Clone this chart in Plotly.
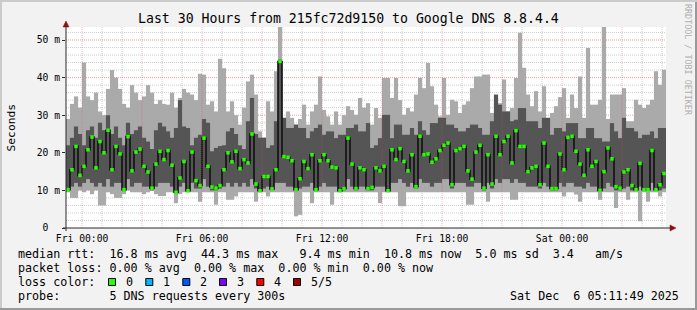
import numpy as np
import pandas as pd
import plotly.graph_objects as go

# ---------------- data ----------------
title_text = "Last 30 Hours from 215fc72d9150 to Google DNS 8.8.4.4"
start_time = "2025-12-04 23:11:49"
end_time = "2025-12-06 05:11:49"
step_minutes = 12

median_ms = [10.2, 15.5, 21.7, 14.0, 16.4, 20.8, 24.2, 16.0, 23.0, 20.0, 26.0, 15.5, 21.7, 19.7, 10.2, 24.3, 15.2, 20.2, 21.0, 16.4, 14.9, 10.6, 17.0, 20.4, 18.2,
             20.6, 16.7, 9.5, 13.3, 17.7, 9.9, 20.2, 12.6, 11.3, 23.9, 16.4, 10.9, 10.6, 11.3, 15.5, 20.0, 17.6, 20.4, 15.8, 18.2, 17.3, 25.0, 11.7, 9.9, 13.7,
             13.7, 10.4, 15.5, 44.3, 19.0, 18.8, 17.9, 10.2, 13.1, 17.7, 15.8, 19.5, 10.2, 17.9, 19.5, 17.9, 16.2, 16.0, 9.9, 10.5, 23.9, 17.0, 10.5, 16.0, 15.5,
             10.5, 10.8, 16.0, 15.2, 16.4, 9.9, 20.8, 18.2, 21.1, 17.7, 15.2, 19.5, 11.0, 24.4, 19.5, 19.7, 17.5, 18.4, 20.6, 22.0, 22.6, 11.5, 20.6, 21.1, 21.7,
             15.2, 13.0, 20.2, 22.0, 10.6, 19.5, 11.7, 24.4, 19.5, 23.0, 24.4, 17.3, 25.9, 21.7, 21.7, 15.0, 16.0, 16.4, 11.5, 22.6, 16.4, 10.5, 10.5, 19.7, 15.5,
             24.1, 24.4, 20.4, 17.0, 14.0, 20.8, 16.4, 17.7, 10.0, 15.0, 21.3, 18.4, 11.0, 10.6, 14.9, 15.5, 11.3, 10.2, 17.2, 10.2, 10.2, 20.6, 10.2, 11.5, 14.5]

max_ms = [29, 33, 35, 32, 44, 35, 34, 36, 31, 30, 37, 42, 40, 37, 33, 32, 38, 36, 34, 35, 38, 36, 33, 34, 33,
          32.8, 36, 32, 34.6, 37, 36, 35.5, 34, 41, 40.8, 32.8, 33.7, 31, 45, 42.5, 31, 33.7, 30, 27.5, 32, 39, 40.8, 35.5, 25.7, 24,
          33.7, 31, 41.7, 56, 29.3, 31, 29.3, 27.5, 29, 32.8, 27.5, 31, 32.8, 40.3, 31.4, 29.7, 27.5, 31, 27.5, 30, 32.4, 31.4, 30.1, 34.6, 32,
          33.2, 27.5, 31.9, 29.3, 39.9, 39.9, 34.6, 39.9, 34, 30.1, 31.9, 31, 35.5, 39.9, 37.2, 43.9, 37.7, 32.8, 29.7, 39.9, 30.1, 34.1, 33.7, 30.6, 32.8,
          33.7, 37.2, 40.3, 40.3, 40.8, 40.8, 30.6, 34.6, 33.2, 39.5, 31, 31.9, 39.9, 51.9, 42.6, 35.5, 32.4, 36.4, 31, 37.7, 29.3, 30.6, 32.4, 34.8, 37.2,
          29.3, 35.5, 31.9, 40.3, 29.3, 47.9, 32.8, 32.8, 34.1, 55, 29, 35.5, 35.5, 35.5, 37.2, 28.4, 28.4, 34.1, 32.8, 31.9, 32.8, 34.1, 41.7, 38.1, 42.1]

upper_ms = [22, 24, 27, 25, 22, 26, 27, 24, 28, 26, 30, 25, 27, 24, 22, 28, 25, 26, 27, 24, 23, 21, 26, 28, 27,
            25.7, 24, 26.6, 34, 27, 26.6, 22, 24, 24.8, 29, 28, 20.4, 21.3, 21.8, 22, 25.7, 26.6, 25, 22, 21, 28.4, 34.6, 25, 24, 24,
            21.3, 22, 28.4, 44.8, 29.3, 26.6, 26.6, 27.5, 26.6, 26.6, 23.9, 25.7, 26.6, 27.5, 24.8, 25.7, 25.7, 23.9, 24.8, 24.8, 26.6, 26.6, 27.5, 25.7, 25.7,
            27.9, 21.3, 22, 23.9, 30.1, 30.1, 23.9, 27.5, 27.5, 24.8, 24.8, 26.6, 24.8, 28.4, 26, 24.8, 27.9, 27.9, 29.3, 29.3, 27.5, 27.5, 26.6, 25.7, 25.7,
            26.6, 27.5, 27.5, 26.6, 24.8, 24.8, 28.4, 35.5, 32.8, 31, 31, 28.4, 28.8, 31.9, 31.9, 28.4, 28.4, 28.4, 26.6, 29.3, 29.3, 24.8, 26.6, 26.6, 25.7,
            27.9, 27.9, 27.9, 23.9, 23.9, 26.6, 26.6, 23.9, 23.9, 23, 23, 27.9, 25.7, 23.9, 29.3, 26.6, 26.6, 25.7, 23.9, 24.8, 24.8, 25.7, 23.9, 26.6, 26.6]

lower_ms = [9.8, 11, 12, 11, 12, 13, 12, 11, 12, 11, 13, 11, 12, 12, 9.8, 13, 11, 12, 12, 11, 11, 10, 11, 12, 12,
            12, 11, 9.2, 11, 12, 9.6, 12, 10.5, 10.5, 13, 11, 10, 10, 10.5, 11, 12, 11, 12, 11, 12, 11, 13, 10.5, 9.6, 10.5,
            11, 10, 12, 12, 12, 11, 11, 9.8, 10.5, 11, 11, 12, 9.8, 11, 12, 11, 11, 11, 9.6, 10, 13, 11, 10, 11, 11,
            10, 10, 11, 11, 11, 9.6, 12, 12, 13, 12, 11, 12, 10.5, 13, 12, 12, 11, 12, 12, 13, 13, 10.5, 12, 12, 12,
            11, 11, 12, 12, 10, 12, 10.5, 13, 12, 13, 13, 12, 13, 12, 12, 11, 11, 11, 10.5, 12, 11, 10, 10, 12, 11,
            12, 12, 11, 11, 10.5, 12, 11, 11, 9.7, 10.5, 12, 11, 10, 10, 10.5, 11, 10, 9.9, 11, 9.9, 9.9, 12, 9.9, 10, 10.5]

min_ms = [9.5, 8, 8, 10, 9.5, 10, 9, 10, 6, 6, 9.5, 9, 8, 8, 9, 10, 9.5, 9.5, 9.5, 9, 9.5, 10, 9, 8.5, 8.5,
          9.5, 9.5, 6.6, 9, 9.5, 9.5, 9.5, 9.5, 7, 9.5, 9.5, 9.5, 6.2, 9.5, 9.5, 7.5, 7.5, 8.4, 9.5, 9.5, 9.5, 9.5, 7, 9.5, 9.5,
          8.4, 9.5, 9.5, 9.5, 9.5, 9.5, 9.5, 3.1, 3.5, 9.5, 9.5, 6.6, 9.5, 9.5, 9.5, 9.5, 6.2, 9.5, 9.5, 9.5, 9.5, 9.5, 9.5, 9.5, 9.5,
          9.5, 9.5, 9.5, 6.6, 9.5, 9.5, 9.5, 9.5, 5.8, 5.8, 9.5, 9.5, 9.5, 9.5, 9.5, 9.5, 9.5, 9.5, 9.5, 9.5, 9.5, 9.5, 9.5, 9.5, 9.5,
          6.2, 6.2, 9.5, 9.5, 9.5, 7, 9.5, 9.5, 9.5, 9.5, 9.5, 7.5, 7.5, 9.5, 9.5, 9.5, 9.5, 9.5, 9.5, 9.5, 9.5, 9.5, 9.5, 9.5, 8.4,
          9.5, 9.5, 8.9, 7, 9.5, 9.5, 9.5, 9.5, 7.5, 9.5, 9.5, 9.5, 5.3, 9.5, 9.5, 7.5, 9.5, 9.5, 1.8, 9.5, 7, 9.5, 9.5, 8.4, 9.5]

x_tick_times = ["2025-12-05 00:00", "2025-12-05 06:00", "2025-12-05 12:00", "2025-12-05 18:00", "2025-12-06 00:00"]
x_tick_labels = ["Fri 00:00", "Fri 06:00", "Fri 12:00", "Fri 18:00", "Sat 00:00"]
y_tick_values = [0, 10, 20, 30, 40, 50]
y_tick_labels = ["0&nbsp;&nbsp;", "10 m", "20 m", "30 m", "40 m", "50 m"]

legend_lines = [
    "median rtt:  16.8 ms avg  44.3 ms max   9.4 ms min  10.8 ms now  5.0 ms sd  3.4   am/s",
    "packet loss: 0.00 % avg  0.00 % max  0.00 % min  0.00 % now",
    "loss color:",
    "probe:       5 DNS requests every 300s",
]
loss_labels = ["0", "1", "2", "3", "4", "5/5"]
loss_colors = ["#26ff00", "#00b8ff", "#0059ff", "#7e00ff", "#ff0000", "#a10000"]
timestamp_text = "Sat Dec  6 05:11:49 2025"

# ---------------- figure ----------------
W, H = 697, 310
L, R, T, B = 66, 666, 27, 228
FONT = "DejaVu Sans Mono"

def px(x):
    return (x - L) / (R - L)

def py(y):
    return (B - y) / (B - T)

n = len(median_ms)
times = pd.date_range(start_time, periods=n, freq=f"{step_minutes}min") + pd.Timedelta(minutes=step_minutes / 2)
bw = step_minutes * 60 * 1000 * 1.04

lo = np.array(min_ms); hi = np.array(max_ms)
q1 = np.array(lower_ms); q3 = np.array(upper_ms)

fig = go.Figure()
fig.add_trace(go.Bar(x=times, y=hi - lo, base=lo, width=bw,
                     marker=dict(color="#aaaaaa", line=dict(width=0)), hoverinfo="skip"))
fig.add_trace(go.Bar(x=times, y=q3 - q1, base=q1, width=bw,
                     marker=dict(color="#555555", line=dict(width=0)), hoverinfo="skip"))
fig.add_trace(go.Scatter(x=times, y=median_ms, mode="lines+markers",
                         line=dict(color="#111111", width=1.6, shape="hvh"),
                         marker=dict(color="#26ff00", symbol="square", size=3.5, line=dict(width=0)),
                         hoverinfo="skip"))

MINOR = "rgba(143,143,143,0.45)"
MAJOR = "rgba(222,80,80,0.55)"
shapes = []
for t in pd.date_range("2025-12-05 00:00", "2025-12-06 05:00", freq="1h"):
    major = t.hour % 3 == 0
    shapes.append(dict(type="line", xref="x", yref="paper", x0=t, x1=t, y0=0, y1=1,
                       layer="above" if major else "below",
                       line=dict(color="rgba(222,80,80,0.4)" if major else MINOR, width=1, dash="1px,1px")))
for v in range(2, 54, 2):
    major = v % 10 == 0
    shapes.append(dict(type="line", xref="paper", yref="y", x0=0, x1=1, y0=v, y1=v, layer="below",
                       line=dict(color=MAJOR if major else MINOR, width=1, dash="1px,1px")))

# axes lines + arrows
AX = "#2b2b2b"
shapes.append(dict(type="line", xref="paper", yref="paper", x0=px(63), x1=px(671), y0=py(228), y1=py(228),
                   line=dict(color=AX, width=1), layer="above"))
shapes.append(dict(type="line", xref="paper", yref="paper", x0=px(66), x1=px(66), y0=py(231), y1=py(25),
                   line=dict(color=AX, width=1), layer="above"))
ARW = "#8b1010"
shapes.append(dict(type="path", xref="paper", yref="paper",
                   path=f"M {px(670)},{py(225)} L {px(676)},{py(228)} L {px(670)},{py(231)} Z",
                   fillcolor=ARW, line=dict(color=ARW, width=0.5), layer="above"))
shapes.append(dict(type="path", xref="paper", yref="paper",
                   path=f"M {px(63)},{py(27)} L {px(66)},{py(21)} L {px(69)},{py(27)} Z",
                   fillcolor=ARW, line=dict(color=ARW, width=0.5), layer="above"))

# frame
shapes.append(dict(type="rect", xref="paper", yref="paper", x0=px(0), x1=px(697), y0=py(0), y1=py(2),
                   fillcolor="#cbcbcb", line=dict(width=0), layer="above"))
shapes.append(dict(type="rect", xref="paper", yref="paper", x0=px(0), x1=px(2), y0=py(0), y1=py(310),
                   fillcolor="#cbcbcb", line=dict(width=0), layer="above"))
shapes.append(dict(type="rect", xref="paper", yref="paper", x0=px(0), x1=px(697), y0=py(308), y1=py(310),
                   fillcolor="#999999", line=dict(width=0), layer="above"))
shapes.append(dict(type="rect", xref="paper", yref="paper", x0=px(695), x1=px(697), y0=py(2), y1=py(310),
                   fillcolor="#999999", line=dict(width=0), layer="above"))

# loss color boxes
box_x = [108.5, 145.8, 182.8, 219.5, 256.8, 293.5]
label_x = [124, 161, 198, 235, 272, 308.5]
for bx, c in zip(box_x, loss_colors):
    shapes.append(dict(type="rect", xref="paper", yref="paper", x0=px(bx), x1=px(bx + 7), y0=py(285.5), y1=py(278.5),
                       fillcolor=c, line=dict(color="#000000", width=1), layer="above"))

ann = []
ann.append(dict(text=title_text, x=px(348), y=py(19), xanchor="center", yanchor="middle",
                font=dict(family=FONT, size=13.2, color="#000")))
for i, line in enumerate(legend_lines):
    ann.append(dict(text=line.replace(" ", "&nbsp;"), x=px(15.5), y=py(254 + 14 * i), xanchor="left", yanchor="middle",
                    font=dict(family=FONT, size=11.7, color="#000")))
for lx, lab in zip(label_x, loss_labels):
    ann.append(dict(text=lab, x=px(lx), y=py(282), xanchor="left", yanchor="middle",
                    font=dict(family=FONT, size=11.7, color="#000")))
ann.append(dict(text=timestamp_text.replace(" ", "&nbsp;"), x=px(681), y=py(296), xanchor="right", yanchor="middle",
                font=dict(family=FONT, size=11.7, color="#000")))
ann.append(dict(text="Seconds", x=px(11), y=py(127.5), textangle=-90, xanchor="center", yanchor="middle",
                font=dict(family=FONT, size=11.3, color="#000")))
ann.append(dict(text="RRDTOOL / TOBI OETIKER", x=px(688), y=py(60), textangle=90, xanchor="center", yanchor="middle",
                font=dict(family=FONT, size=8.4, color="#b0b0b0")))
for a in ann:
    a.update(xref="paper", yref="paper", showarrow=False)

fig.update_layout(
    width=W, height=H, autosize=False,
    margin=dict(l=L, r=W - R, t=T, b=H - B, pad=0),
    paper_bgcolor="#f2f2f2", plot_bgcolor="#ffffff",
    barmode="overlay", showlegend=False,
    shapes=shapes, annotations=ann,
    xaxis=dict(type="date", range=[start_time, end_time], tickvals=x_tick_times, ticktext=x_tick_labels,
               showgrid=False, zeroline=False, showline=False, ticks="outside", ticklen=1, tickcolor="rgba(0,0,0,0)",
               tickfont=dict(family=FONT, size=9.7, color="#000")),
    yaxis=dict(range=[0, (B - T) / 3.76], tickvals=y_tick_values, ticktext=y_tick_labels,
               showgrid=False, zeroline=False, showline=False, ticks="outside", ticklen=3, tickcolor=AX,
               tickfont=dict(family=FONT, size=9.7, color="#000")),
)
fig.write_html("out.html")
